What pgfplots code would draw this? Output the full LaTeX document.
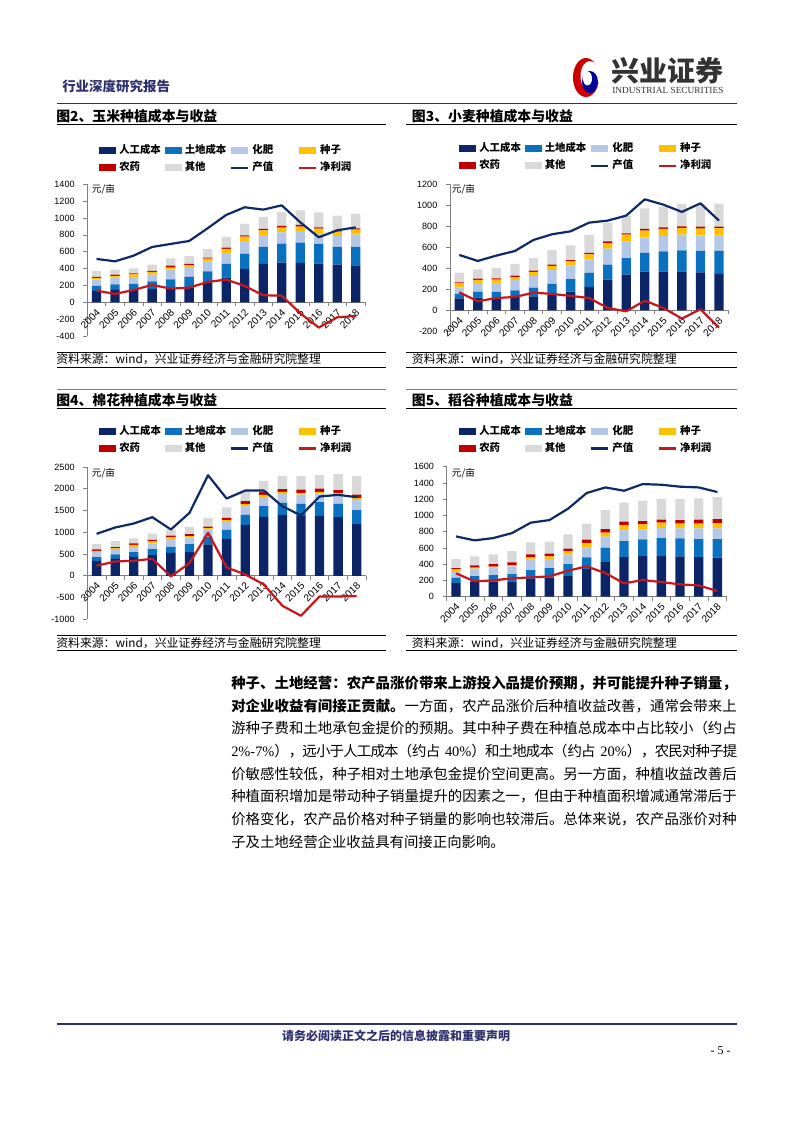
\documentclass[border=0pt]{standalone}
\usepackage{fontspec}
\setmainfont{Liberation Sans}
\newfontfamily\cjk{Noto Sans CJK SC}
\newfontfamily\tnr{Liberation Serif}
\usepackage{pgfplots}
\usepackage{pgfplotstable}
\pgfplotsset{compat=1.18}
\XeTeXlinebreaklocale "zh"
\XeTeXlinebreakskip=0pt plus 2pt minus 0.6pt

\definecolor{cLab}{HTML}{0B2566}
\definecolor{cLand}{HTML}{0A70C0}
\definecolor{cFert}{HTML}{B4C7E7}
\definecolor{cSeed}{HTML}{FFC000}
\definecolor{cPest}{HTML}{C00000}
\definecolor{cOth}{HTML}{D9D9D9}
\definecolor{cVal}{HTML}{0E2A66}
\definecolor{cPro}{HTML}{C8161D}
\definecolor{hdr}{HTML}{2E2F6E}

\pgfplotstableread{
x a b c d e f v p
0 134 60 79 16 11 72 514 138
1 146 67 79 20 16 59 486 99
2 150 67 83 32 12 59 553 146
3 158 91 79 32 12 75 656 206
4 162 111 114 24 24 87 692 162
5 178 122 119 20 16 94 727 174
6 230 138 114 36 12 102 878 241
7 292 163 130 48 16 126 1036 269
8 395 182 147 55 16 134 1127 194
9 455 201 142 56 16 142 1099 83
10 470 226 134 55 20 166 1150 79
11 466 242 138 51 20 174 949 -130
12 458 234 114 68 15 178 771 -300
13 446 210 131 51 12 178 854 -178
14 438 218 147 59 16 170 889 -162
}\corn
\pgfplotstableread{
x a b c d e f v p
0 114 42 63 38 10 92 527 171
1 121 57 82 29 13 88 470 86
2 124 51 85 32 13 98 521 117
3 130 60 99 28 13 111 565 127
4 133 83 111 38 13 120 670 168
5 152 99 133 38 13 140 724 156
6 178 120 131 38 12 140 752 137
7 222 134 130 47 13 171 835 117
8 292 143 152 51 19 178 854 22
9 340 158 159 64 12 167 902 -10
10 368 178 149 64 16 196 1057 92
11 368 194 146 67 15 197 1006 22
12 368 203 150 63 16 213 937 -79
13 362 203 149 64 19 216 1019 10
14 346 219 146 70 16 219 854 -165
}\wheat
\pgfplotstableread{
x a b c d e f v p
0 345 84 122 23 31 130 965 230
1 391 99 100 38 30 138 1110 329
2 436 108 122 46 31 115 1202 345
3 475 138 130 46 38 145 1348 391
4 528 138 184 38 38 123 1064 -15
5 559 168 154 30 46 169 1447 291
6 720 180 160 35 38 197 2312 988
7 850 207 176 46 53 238 1776 191
8 1172 229 192 53 69 235 1960 31
9 1355 245 207 54 61 260 1960 -199
10 1401 276 207 46 61 298 1600 -689
11 1378 276 214 39 76 306 1386 -919
12 1378 314 199 39 76 306 1822 -475
13 1348 306 207 46 61 367 1861 -475
14 1187 322 229 46 84 421 1807 -467
}\cotton
\pgfplotstableread{
x a b c d e f v p
0 168 66 82 20 17 111 742 287
1 185 69 91 12 29 110 693 189
2 185 82 90 12 33 119 722 201
3 189 90 94 17 32 140 783 226
4 217 111 131 25 37 148 911 238
5 234 119 111 32 33 148 943 250
6 263 139 115 41 33 176 1083 320
7 340 144 123 53 41 197 1276 373
8 427 176 135 50 45 234 1345 291
9 488 197 131 62 45 234 1304 164
10 500 205 124 61 41 250 1386 205
11 509 213 123 66 37 254 1378 180
12 496 222 123 57 45 259 1354 152
13 488 222 131 57 50 262 1345 139
14 480 230 131 65 50 270 1288 70
}\rice

\pgfplotsset{
  bs/.style={draw=none, bar width=7bp,
    legend image code/.code={\fill[##1] (0bp,-2.6bp) rectangle (12.75bp,2.6bp);}},
  ll/.style={legend image code/.code={\draw[##1, line width=1.65bp] (0bp,0bp) -- (12.75bp,0bp);}},
  barax/.style={
    scale only axis, anchor=south west,
    xmin=-0.5, xmax=14.5, ybar stacked,
    axis x line=middle, axis y line=left,
    axis line style={-, gray, line width=0.6bp},
    every inner x axis line/.append style={-},
    every outer y axis line/.append style={-},
    every outer x axis line/.append style={-},
    every inner y axis line/.append style={-},
    hide obscured x ticks=false, hide obscured y ticks=false,
    tick align=outside, major tick length=3bp, minor tick length=3bp,
    xtick={0,...,14},
    xticklabels={2004,2005,2006,2007,2008,2009,2010,2011,2012,2013,2014,2015,2016,2017,2018},
    major x tick style={draw=none},
    minor xtick={-0.5,0.5,...,14.5},
    minor x tick style={gray, line width=0.5bp},
    ytick style={gray, line width=0.5bp},
    /pgf/number format/assume math mode=true,
    /pgf/number format/1000 sep={},
    yticklabel style={font=\fontsize{6.8bp}{7bp}\selectfont, text=black, anchor=east, xshift=-3bp},
    xticklabel style={font=\fontsize{7.6bp}{8bp}\selectfont, text=black, rotate=45, anchor=east, xshift=2bp, yshift=-3.5bp},
    legend columns=4,
    legend cell align=left,
    legend style={draw=none, fill=none, inner sep=0pt, outer sep=0pt,
      column sep=0pt, row sep=4bp, anchor=north west,
      font=\fontsize{7.8bp}{9bp}\selectfont\cjk\bfseries,
      nodes={inner xsep=2.25bp, inner ysep=1bp, text height=5.8bp, text depth=1.2bp}},
  },
  lineax/.style={scale only axis, anchor=south west, xmin=-0.5, xmax=14.5, hide axis, clip=false},
}
\newcommand\lb[1]{\makebox[31.85bp][l]{#1}}
\newcommand{\chart}[9]{%
  \begin{axis}[barax, at={(#2)}, width=#3, height=#4, ymin=#5, ymax=#6, ytick distance=#7,
      legend style={at={(#8,#9)}}]
    \addplot[bs, fill=cLab] table[x=x,y=a]{#1};
    \addplot[bs, fill=cLand] table[x=x,y=b]{#1};
    \addplot[bs, fill=cFert] table[x=x,y=c]{#1};
    \addplot[bs, fill=cSeed] table[x=x,y=d]{#1};
    \addplot[bs, fill=cPest] table[x=x,y=e]{#1};
    \addplot[bs, fill=cOth] table[x=x,y=f]{#1};
    \addlegendimage{ll, color=cVal}
    \addlegendimage{ll, color=cPro}
    \legend{\lb{人工成本},\lb{土地成本},\lb{化肥},\lb{种子},\lb{农药},\lb{其他},\lb{产值},\lb{净利润}}
  \end{axis}
  \begin{axis}[lineax, at={(#2)}, width=#3, height=#4, ymin=#5, ymax=#6]
    \addplot[cVal, line width=1.65bp, no marks, line join=round] table[x=x,y=v]{#1};
    \addplot[cPro, line width=1.65bp, no marks, line join=round] table[x=x,y=p]{#1};
  \end{axis}}

\begin{document}
\begin{tikzpicture}[x=0.75bp, y=-0.75bp]
\useasboundingbox (0,0) rectangle (793,1122);
\coordinate (A1) at (87.3,336);
\coordinate (A2) at (450,331.3);
\coordinate (A3) at (87.3,619.3);
\coordinate (A4) at (446.7,596.7);

% header
\node[anchor=west, inner sep=0, text=hdr, font={\fontsize{10.1bp}{12bp}\selectfont\cjk\bfseries}] at (62,86) {行业深度研究报告};
\fill[red!80!black] (586,77.5) ellipse [x radius=13, y radius=19.5];
\fill[white] (590,76) ellipse [x radius=9.5, y radius=15];
\fill[blue!60!black] (590,82) ellipse [x radius=8, y radius=11];
\fill[white] (587.5,78.5) ellipse [x radius=4.5, y radius=7];
\node[anchor=west, inner sep=0, text=black!80, font={\fontsize{21bp}{24bp}\selectfont\cjk\bfseries}] at (611,71) {兴业证券};
\node[anchor=west, inner sep=0, text=black!80, font={\fontsize{7bp}{8bp}\selectfont\tnr}] at (612,90) {INDUSTRIAL SECURITIES};
\draw[hdr, line width=1.1bp] (57,103.5) -- (737,103.5);

% panel frames
\foreach \xa/\xb in {57/386, 406/737} {
  \draw[black, line width=0.75bp] (\xa,125) -- (\xb,125);
  \draw[black, line width=0.75bp] (\xa,352.3) -- (\xb,352.3);
  \draw[black, line width=0.75bp] (\xa,367) -- (\xb,367);
  \draw[gray, line width=0.5bp] (\xa,389) -- (\xb,389);
  \draw[black, line width=0.75bp] (\xa,408.3) -- (\xb,408.3);
  \draw[black, line width=0.75bp] (\xa,635.5) -- (\xb,635.5);
  \draw[black, line width=0.75bp] (\xa,650.7) -- (\xb,650.7);
}
\tikzset{ttl/.style={anchor=west, inner sep=0, font={\fontsize{10.4bp}{12bp}\selectfont\cjk\bfseries}},
         src/.style={anchor=west, inner sep=0, font={\fontsize{8.9bp}{10bp}\selectfont\cjk}},
         unit/.style={anchor=west, inner sep=0, font={\fontsize{7.2bp}{8bp}\selectfont\cjk}}}
\node[ttl] at (56,116) {图2、玉米种植成本与收益};
\node[ttl] at (411.7,116) {图3、小麦种植成本与收益};
\node[ttl] at (56,400.3) {图4、棉花种植成本与收益};
\node[ttl] at (411.7,400.3) {图5、稻谷种植成本与收益};
\node[src] at (56,359.5) {资料来源：wind，兴业证券经济与金融研究院整理};
\node[src] at (411.7,359.5) {资料来源：wind，兴业证券经济与金融研究院整理};
\node[src] at (56,643.3) {资料来源：wind，兴业证券经济与金融研究院整理};
\node[src] at (411.7,643.3) {资料来源：wind，兴业证券经济与金融研究院整理};

\chart{\corn}{A1}{208.3bp}{113.8bp}{-400}{1400}{200}{0.0432}{1.263}
\chart{\wheat}{A2}{208.7bp}{110.25bp}{-200}{1200}{200}{0.0334}{1.285}
\chart{\cotton}{A3}{209bp}{114.2bp}{-1000}{2500}{500}{0.0431}{1.275}
\chart{\rice}{A4}{210bp}{97.5bp}{0}{1600}{200}{0.045}{1.320}

\node[unit] at (91.7,189) {元/亩};
\node[unit] at (451.7,189.3) {元/亩};
\node[unit] at (91.7,473.3) {元/亩};
\node[unit] at (451.7,473.3) {元/亩};

% paragraph
\node[anchor=base west, inner sep=0, text width=379.5bp, font={\fontsize{10.8bp}{17bp}\selectfont\cjk}] at (231,688.5) {%
\parindent=0pt\tolerance=9999\emergencystretch=0pt
{\bfseries 种子、土地经营：农产品涨价带来上游投入品提价预期，并可能提升种子销量，}\linebreak
{\bfseries 对企业收益有间接正贡献。}一方面，农产品涨价后种植收益改善，通常会带来上\linebreak
游种子费和土地承包金提价的预期。其中种子费在种植总成本中占比较小（约占\linebreak
{\tnr 2\%-7\%}），远小于人工成本（约占{\tnr\ 40\%}）和土地成本（约占{\tnr\ 20\%}），农民对种子提\linebreak
价敏感性较低，种子相对土地承包金提价空间更高。另一方面，种植收益改善后\linebreak
种植面积增加是带动种子销量提升的因素之一，但由于种植面积增减通常滞后于\linebreak
价格变化，农产品价格对种子销量的影响也较滞后。总体来说，农产品涨价对种\linebreak
子及土地经营企业收益具有间接正向影响。\par};

% footer
\draw[hdr, line width=1.5bp] (57,1024) -- (737,1024);
\node[inner sep=0, text=hdr, font={\fontsize{9bp}{10bp}\selectfont\cjk\bfseries}] at (396,1036) {请务必阅读正文之后的信息披露和重要声明};
\node[inner sep=0, font={\fontsize{9bp}{10bp}\selectfont\tnr}] at (720.5,1051) {- 5 -};
\end{tikzpicture}
\end{document}
